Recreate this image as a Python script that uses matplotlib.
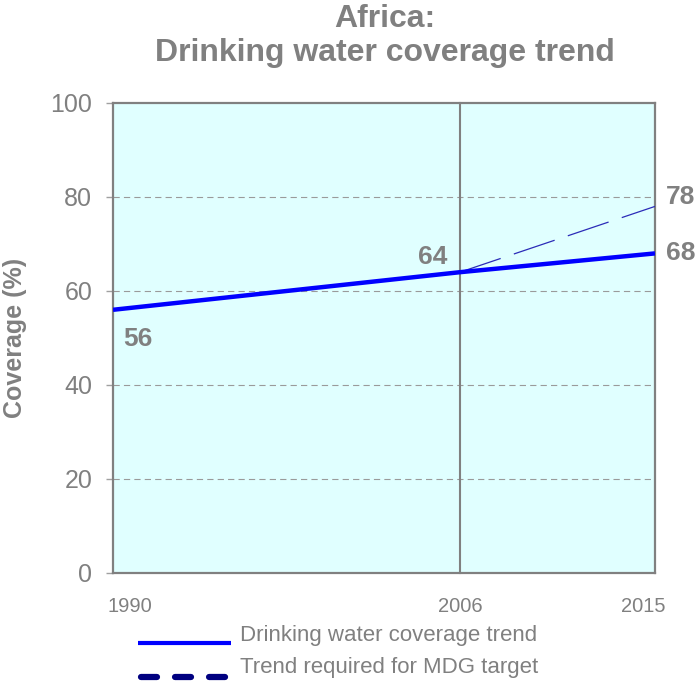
import matplotlib
matplotlib.use("Agg")
import matplotlib.pyplot as plt
from matplotlib.lines import Line2D
import matplotlib.transforms as mtransforms

plt.rcParams['font.family'] = ['Liberation Sans', 'DejaVu Sans']
plt.rcParams['lines.scale_dashes'] = False

# Data
years_trend = [1990, 2006, 2015]
coverage_trend = [56, 64, 68]
years_target = [2006, 2015]
coverage_target = [64, 78]
xtick_years = [1990, 2006, 2015]
ytick_values = [0, 20, 40, 60, 80, 100]
title = "Africa:\nDrinking water coverage trend"
ylabel = "Coverage (%)"
legend_labels = ["Drinking water coverage trend", "Trend required for MDG target"]

GRAY = '#808080'

fig = plt.figure(figsize=(6.99, 6.87), dpi=100)
ax = fig.add_axes([113/699, 1-573/687, 542/699, 470/687])
ax.set_facecolor('#E0FFFF')

ax.set_xlim(1990, 2015)
ax.set_ylim(0, 100)

# gridlines
for y in ytick_values[1:-1]:
    ax.axhline(y, color='#9a9a9a', lw=0.8, dashes=(4.5, 3), zorder=1)

# vertical line at 2006
ax.axvline(2006, color=GRAY, lw=1.5, zorder=2, clip_on=False)

ax.plot(years_target, coverage_target, color='#2b2bb8', lw=0.9, dashes=(31, 10), zorder=3)
ax.plot(years_trend, coverage_trend, color='#0000FF', lw=3.2, zorder=4, solid_capstyle='butt')

for s in ax.spines.values():
    s.set_color(GRAY)
    s.set_linewidth(1.6)

ax.set_yticks(ytick_values)
ax.set_yticklabels([str(v) for v in ytick_values], fontsize=18, color=GRAY)
ax.tick_params(axis='y', length=5, width=1, color='#a0a0a0', pad=10, direction='out')
ax.set_xticks(xtick_years)
ax.set_xticklabels([str(v) for v in xtick_years], fontsize=14.5, color=GRAY)
ax.tick_params(axis='x', length=0, pad=17)
# shift edge labels inward
xl = ax.get_xticklabels()
xl[0].set_transform(xl[0].get_transform() + mtransforms.ScaledTranslation(17/100, 0, fig.dpi_scale_trans))
xl[2].set_transform(xl[2].get_transform() + mtransforms.ScaledTranslation(-12/100, 0, fig.dpi_scale_trans))

ax.set_ylabel(ylabel, fontsize=18, fontweight='bold', color=GRAY)
ax.yaxis.label.set_va('center')
ax.yaxis.set_label_coords((15-113)/542, 0.5)

fig.text(385/699, 1-36/687, title, ha='center', va='center', fontsize=23, fontweight='bold',
         color=GRAY, linespacing=1.2)

# value labels
lab_kw = dict(fontsize=19, fontweight='bold', color=GRAY, textcoords='offset points', va='center')
ax.annotate(str(coverage_trend[0]), xy=(years_trend[0], coverage_trend[0]), xytext=(7, -21), ha='left', **lab_kw)
ax.annotate(str(coverage_trend[1]), xy=(years_trend[1], coverage_trend[1]), xytext=(-9, 11), ha='right', **lab_kw)
ax.annotate(str(coverage_trend[2]), xy=(years_trend[2], coverage_trend[2]), xytext=(8, 0), ha='left',
            annotation_clip=False, **lab_kw)
ax.annotate(str(coverage_target[1]), xy=(years_target[1], coverage_target[1]), xytext=(8, 7), ha='left',
            annotation_clip=False, **lab_kw)

# legend (manual)
fig.add_artist(Line2D([138/699, 231/699], [1-643/687, 1-643/687], color='#0000FF', lw=3.0,
                      solid_capstyle='butt'))
fig.add_artist(Line2D([141/699, 229/699], [1-677/687, 1-677/687], color='#000080', lw=4.5,
                      dashes=(11.5, 13), dash_capstyle='round'))
fig.text(240/699, 1-636/687, legend_labels[0], fontsize=16, color=GRAY, ha='left', va='center')
fig.text(240/699, 1-668/687, legend_labels[1], fontsize=16, color=GRAY, ha='left', va='center')

fig.savefig('out.png', dpi=100)
